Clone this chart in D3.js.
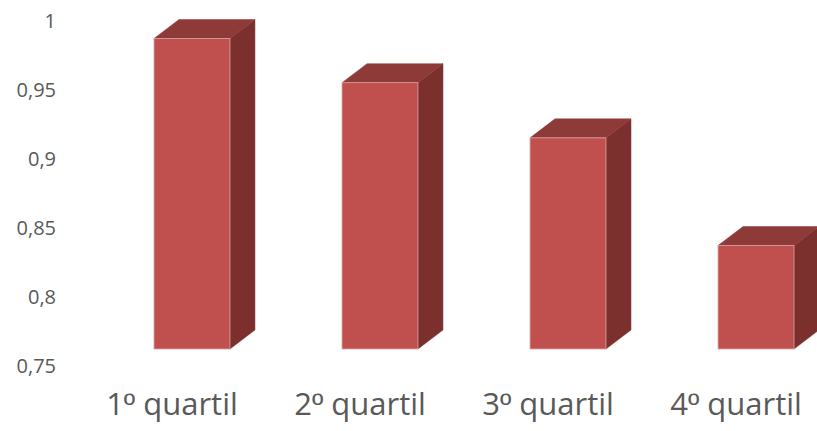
<!DOCTYPE html>
<html>
<head>
<meta charset="utf-8">
<script src="https://cdn.jsdelivr.net/npm/d3@7"></script>
<style>
  html, body { margin: 0; padding: 0; background: #fff; }
  svg { display: block; }
</style>
</head>
<body>
<svg id="chart" width="817" height="431"></svg>
<script>
const categories = ["1º quartil", "2º quartil", "3º quartil", "4º quartil"];
const values = [0.975, 0.943, 0.903, 0.825];
const yTicks = [0.75, 0.8, 0.85, 0.9, 0.95, 1];
const yTickLabels = ["0,75", "0,8", "0,85", "0,9", "0,95", "1"];

const svg = d3.select("#chart");

const x = d3.scaleBand().domain(categories).range([154, 794]).paddingInner(0.596).paddingOuter(0);
const y = d3.scaleLinear().domain([0.75, 1]).range([366, 21]);

// 3D offsets
const depthX = 25, depthY = -19;
const frontShift = -17;

const colFront = "#c0504d", colTop = "#8e3a38", colSide = "#7b302e";

// y axis labels
const yAxis = d3.axisLeft(y).tickValues(yTicks).tickFormat((d, i) => yTickLabels[i]).tickSize(0).tickPadding(0);
const ga = svg.append("g").attr("transform", "translate(56,0)").call(yAxis);
ga.select(".domain").remove();
ga.selectAll("text")
  .attr("fill", "#595959")
  .style("font-family", "'Open Sans', sans-serif")
  .style("font-size", "20px");

// bars
const bars = svg.append("g").selectAll("g").data(values).join("g");
bars.each(function(v, i) {
  const g = d3.select(this);
  const x0 = x(categories[i]), x1 = x0 + x.bandwidth();
  const yt = y(v) + frontShift, yb = y(0.75) + frontShift;
  g.append("path")
    .attr("d", `M${x1},${yt} L${x1 + depthX},${yt + depthY} L${x1 + depthX},${yb + depthY} L${x1},${yb} Z`)
    .attr("fill", colSide).attr("stroke", colSide).attr("stroke-width", 0.5);
  g.append("path")
    .attr("d", `M${x0},${yt} L${x0 + depthX},${yt + depthY} L${x1 + depthX},${yt + depthY} L${x1},${yt} Z`)
    .attr("fill", colTop).attr("stroke", colTop).attr("stroke-width", 0.5);
  g.append("rect")
    .attr("x", x0).attr("y", yt).attr("width", x.bandwidth()).attr("height", yb - yt)
    .attr("fill", colFront).attr("stroke", "#d7a3a1").attr("stroke-width", 0.8);
});

// x labels
const xAxis = d3.axisBottom(x).tickSize(0).tickPadding(0);
const gx = svg.append("g").attr("transform", "translate(-20,393)").call(xAxis);
gx.select(".domain").remove();
gx.selectAll("text")
  .attr("fill", "#595959")
  .attr("dy", "0.71em")
  .style("font-family", "'Open Sans', sans-serif")
  .style("font-size", "31px")
  .each(function(d) {
    const t = d3.select(this);
    t.text(null);
    const parts = d.split("º");
    t.append("tspan").text(parts[0]);
    t.append("tspan").style("font-family", "'Liberation Sans', sans-serif").text("º");
    t.append("tspan").text(parts[1]);
  });
</script>
</body>
</html>
